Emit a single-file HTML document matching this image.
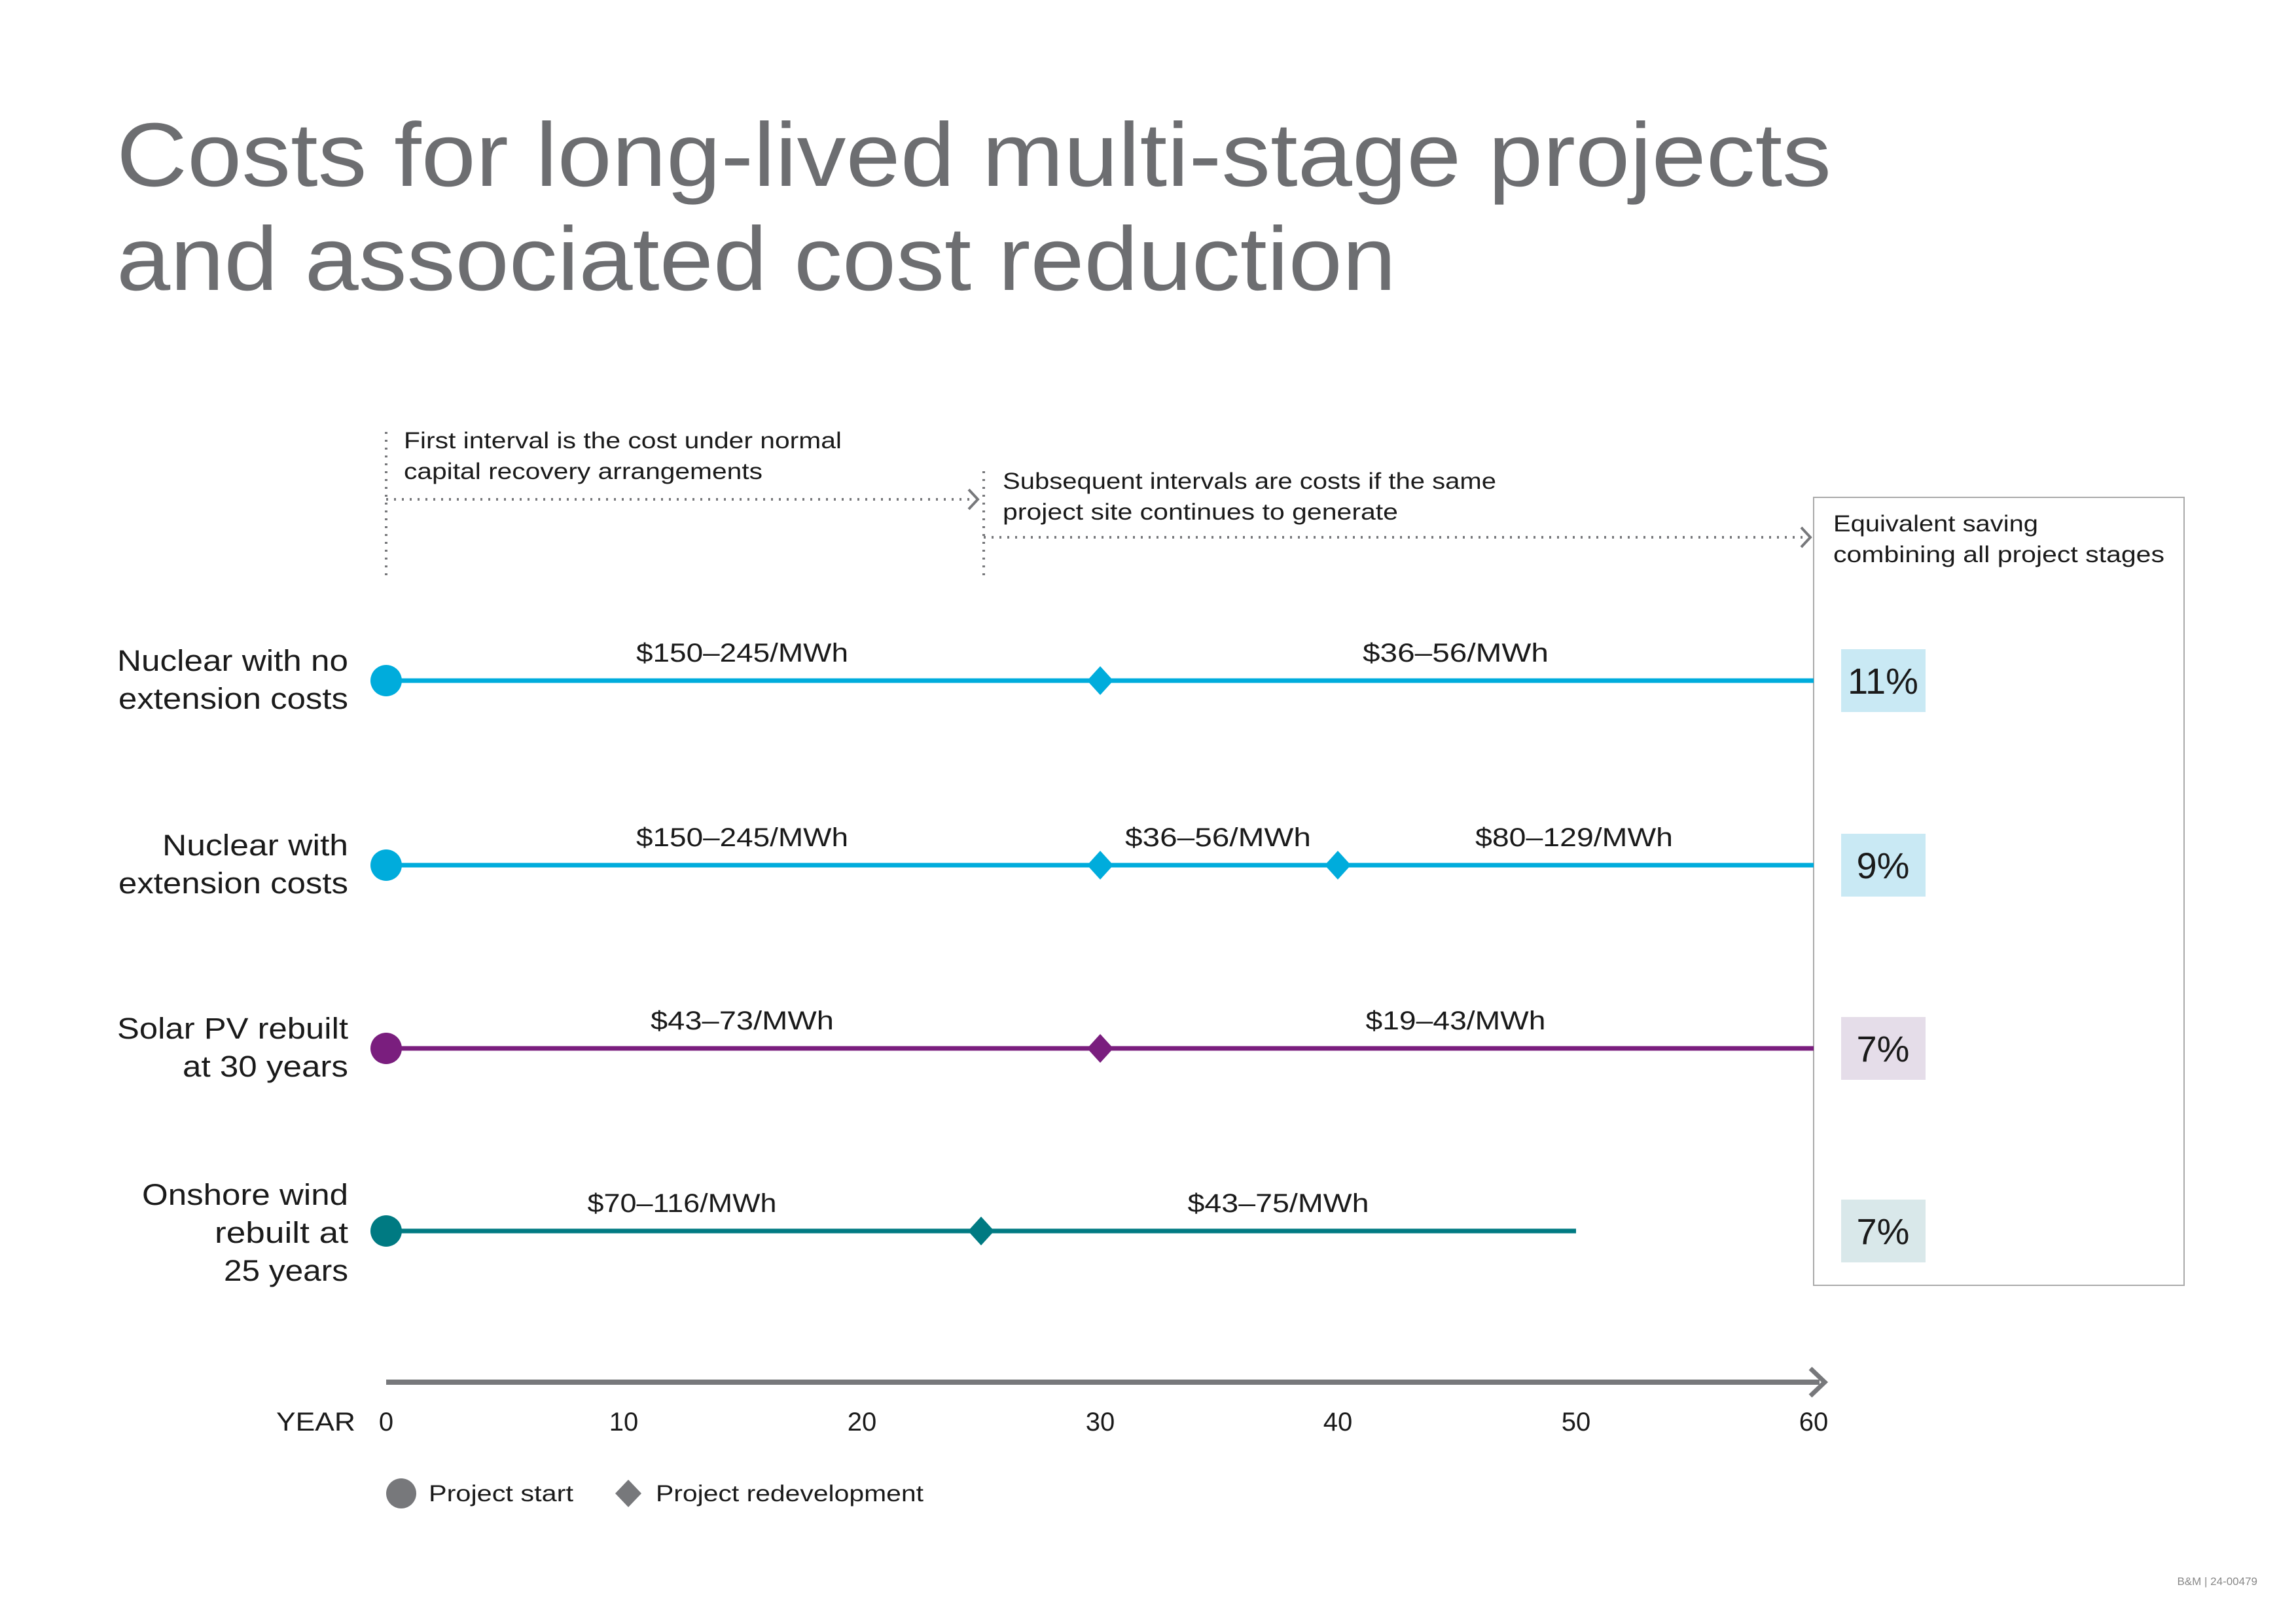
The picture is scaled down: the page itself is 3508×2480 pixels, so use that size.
<!DOCTYPE html>
<html><head><meta charset="utf-8"><style>
html,body{margin:0;padding:0;background:#fff}
svg{display:block}
text{font-family:"Liberation Sans",sans-serif}
</style></head><body>
<svg width="3508" height="2480" viewBox="0 0 3508 2480" xmlns="http://www.w3.org/2000/svg">
<rect width="3508" height="2480" fill="#fff"/>
<g fill="#6d6e71" font-size="138">
<text x="178" y="284" textLength="2620" lengthAdjust="spacingAndGlyphs">Costs for long-lived multi-stage projects</text>
<text x="178" y="443" textLength="1955" lengthAdjust="spacingAndGlyphs">and associated cost reduction</text>
</g>
<g stroke="#77787b" stroke-width="4" stroke-dasharray="3 9" fill="none">
<line x1="590" y1="660" x2="590" y2="884"/>
<line x1="590" y1="763" x2="1490" y2="763"/>
<line x1="1503" y1="720" x2="1503" y2="884"/>
<line x1="1503" y1="821" x2="2760" y2="821"/>
</g>
<g stroke="#77787b" stroke-width="4" fill="none">
<polyline points="1480,748 1494,763 1480,778"/>
<polyline points="2752,806 2766,821 2752,836"/>
</g>
<g fill="#1a1a1a" font-size="35" lengthAdjust="spacingAndGlyphs">
<text x="617" y="685" textLength="669" lengthAdjust="spacingAndGlyphs">First interval is the cost under normal</text>
<text x="617" y="732" textLength="548" lengthAdjust="spacingAndGlyphs">capital recovery arrangements</text>
<text x="1532" y="747" textLength="754" lengthAdjust="spacingAndGlyphs">Subsequent intervals are costs if the same</text>
<text x="1532" y="794" textLength="604" lengthAdjust="spacingAndGlyphs">project site continues to generate</text>
<text x="2801" y="812" textLength="313" lengthAdjust="spacingAndGlyphs">Equivalent saving</text>
<text x="2801" y="859" textLength="506" lengthAdjust="spacingAndGlyphs">combining all project stages</text>
</g>
<rect x="2771" y="760" width="566" height="1204" fill="none" stroke="#aaa" stroke-width="2"/>
<g fill="#1a1a1a" font-size="45" text-anchor="end">
<text x="532" y="1025" textLength="353" lengthAdjust="spacingAndGlyphs">Nuclear with no</text>
<text x="532" y="1083" textLength="351" lengthAdjust="spacingAndGlyphs">extension costs</text>
<text x="532" y="1307" textLength="284" lengthAdjust="spacingAndGlyphs">Nuclear with</text>
<text x="532" y="1365" textLength="351" lengthAdjust="spacingAndGlyphs">extension costs</text>
<text x="532" y="1587" textLength="353" lengthAdjust="spacingAndGlyphs">Solar PV rebuilt</text>
<text x="532" y="1645" textLength="253" lengthAdjust="spacingAndGlyphs">at 30 years</text>
<text x="532" y="1841" textLength="315" lengthAdjust="spacingAndGlyphs">Onshore wind</text>
<text x="532" y="1899" textLength="204" lengthAdjust="spacingAndGlyphs">rebuilt at</text>
<text x="532" y="1957" textLength="190" lengthAdjust="spacingAndGlyphs">25 years</text>
</g>
<g stroke-width="7">
<line x1="590" y1="1040" x2="2771" y2="1040" stroke="#00acdc"/>
<line x1="590" y1="1322" x2="2771" y2="1322" stroke="#00acdc"/>
<line x1="590" y1="1602" x2="2771" y2="1602" stroke="#7a1e7e"/>
<line x1="590" y1="1881" x2="2408" y2="1881" stroke="#007a82"/>
</g>
<circle cx="590" cy="1040" r="24" fill="#00acdc"/>
<circle cx="590" cy="1322" r="24" fill="#00acdc"/>
<circle cx="590" cy="1602" r="24" fill="#7a1e7e"/>
<circle cx="590" cy="1881" r="24" fill="#007a82"/>
<g>
<polygon points="1681,1018 1701,1040 1681,1062 1661,1040" fill="#00acdc"/>
<polygon points="1681,1300 1701,1322 1681,1344 1661,1322" fill="#00acdc"/>
<polygon points="2044,1300 2064,1322 2044,1344 2024,1322" fill="#00acdc"/>
<polygon points="1681,1580 1701,1602 1681,1624 1661,1602" fill="#7a1e7e"/>
<polygon points="1499,1859 1519,1881 1499,1903 1479,1881" fill="#007a82"/>
</g>
<g fill="#1a1a1a" font-size="40" text-anchor="middle">
<text x="1134" y="1011" textLength="324" lengthAdjust="spacingAndGlyphs">$150–245/MWh</text>
<text x="2224" y="1011" textLength="284" lengthAdjust="spacingAndGlyphs">$36–56/MWh</text>
<text x="1134" y="1293" textLength="324" lengthAdjust="spacingAndGlyphs">$150–245/MWh</text>
<text x="1861" y="1293" textLength="284" lengthAdjust="spacingAndGlyphs">$36–56/MWh</text>
<text x="2405" y="1293" textLength="302" lengthAdjust="spacingAndGlyphs">$80–129/MWh</text>
<text x="1134" y="1573" textLength="280" lengthAdjust="spacingAndGlyphs">$43–73/MWh</text>
<text x="2224" y="1573" textLength="275" lengthAdjust="spacingAndGlyphs">$19–43/MWh</text>
<text x="1042" y="1852" textLength="289" lengthAdjust="spacingAndGlyphs">$70–116/MWh</text>
<text x="1953" y="1852" textLength="277" lengthAdjust="spacingAndGlyphs">$43–75/MWh</text>
</g>
<rect x="2813" y="992" width="129" height="96" fill="#c9e9f4"/>
<rect x="2813" y="1274" width="129" height="96" fill="#c9e9f4"/>
<rect x="2813" y="1554" width="129" height="96" fill="#e5dde9"/>
<rect x="2813" y="1833" width="129" height="96" fill="#d9e8ea"/>
<g fill="#1a1a1a" font-size="56" text-anchor="middle">
<text x="2877" y="1060">11%</text>
<text x="2877" y="1342">9%</text>
<text x="2877" y="1622">7%</text>
<text x="2877" y="1901">7%</text>
</g>
<line x1="590" y1="2112" x2="2780" y2="2112" stroke="#77787b" stroke-width="8"/>
<polyline points="2766,2091 2788,2112 2766,2133" fill="none" stroke="#77787b" stroke-width="7"/>
<g fill="#1a1a1a" font-size="40" text-anchor="middle">
<text x="590" y="2186">0</text>
<text x="953" y="2186">10</text>
<text x="1317" y="2186">20</text>
<text x="1681" y="2186">30</text>
<text x="2044" y="2186">40</text>
<text x="2408" y="2186">50</text>
<text x="2771" y="2186">60</text>
<text x="543" y="2186" text-anchor="end" textLength="121" lengthAdjust="spacingAndGlyphs">YEAR</text>
</g>
<circle cx="613" cy="2282" r="23" fill="#77787b"/>
<text x="655" y="2294" font-size="35" fill="#1a1a1a" textLength="221" lengthAdjust="spacingAndGlyphs">Project start</text>
<polygon points="960,2261 980,2282 960,2303 940,2282" fill="#77787b"/>
<text x="1002" y="2294" font-size="35" fill="#1a1a1a" textLength="409" lengthAdjust="spacingAndGlyphs">Project redevelopment</text>
<text x="3449" y="2422" font-size="17" fill="#888" text-anchor="end">B&amp;M | 24-00479</text>
</svg>
</body></html>
